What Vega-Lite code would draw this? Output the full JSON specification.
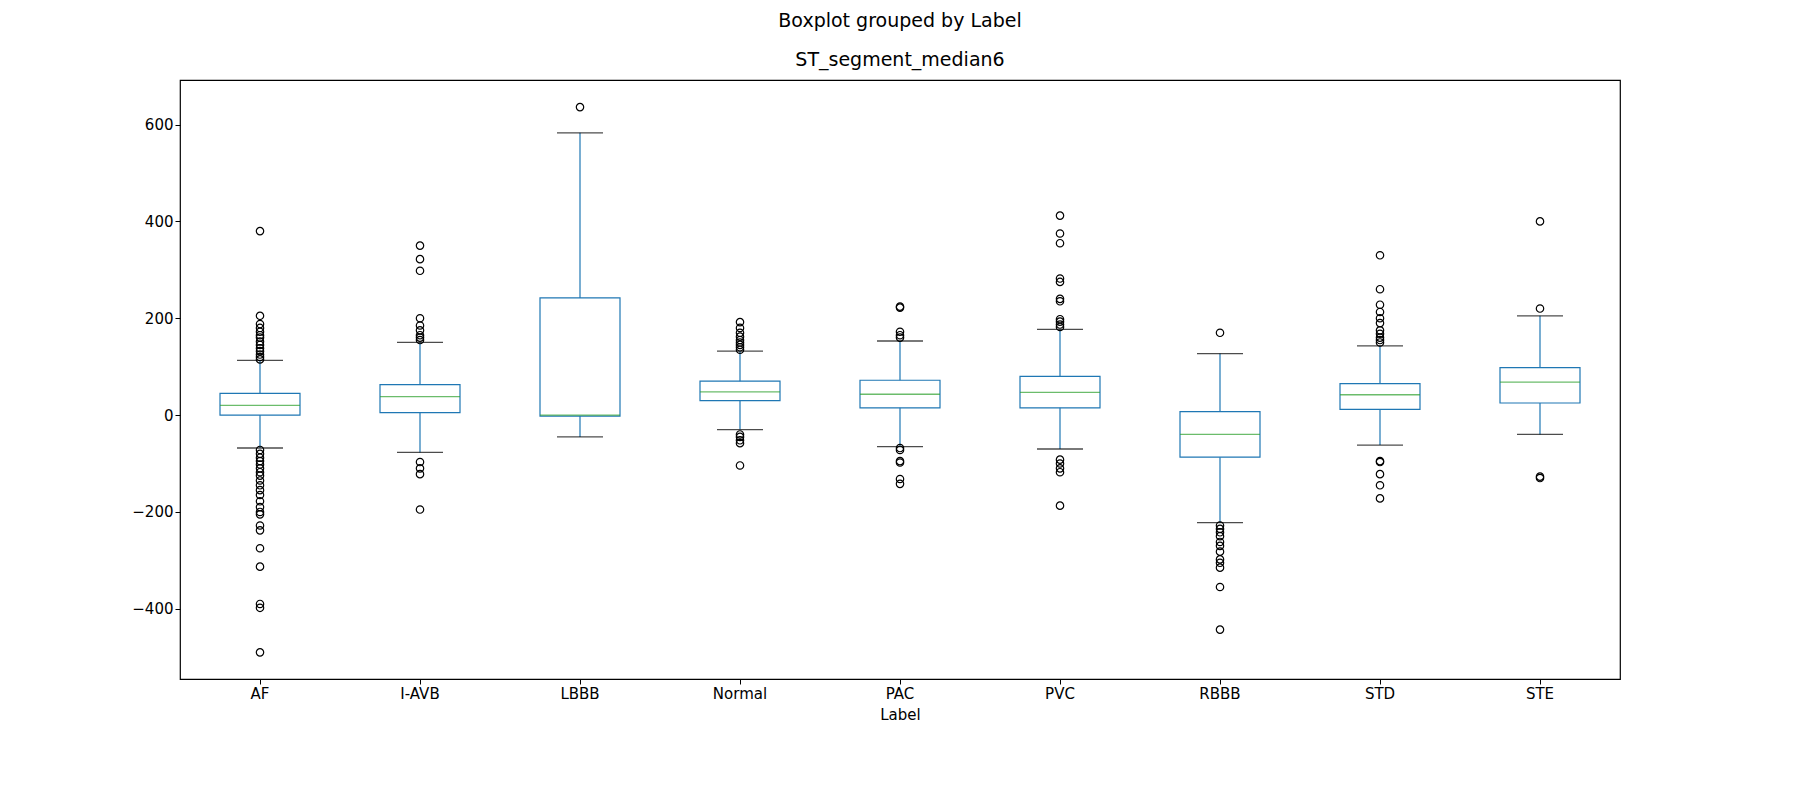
{
"$schema":"https://vega.github.io/schema/vega-lite/v6.json",
"width":1440,"height":599,
"autosize":"none",
"padding":{"left":180,"top":80,"right":180,"bottom":121},
"background":"white",
"title":{"text":"Boxplot grouped by Label","subtitle":"ST_segment_median6","anchor":"middle","font":"DejaVu Sans","subtitleFont":"DejaVu Sans","fontSize":19,"subtitleFontSize":19,"fontWeight":"normal","color":"black","subtitleColor":"black","subtitlePadding":20,"offset":10},
"config":{"view":{"stroke":"black","strokeWidth":1.2},"axis":{"labelFont":"DejaVu Sans","titleFont":"DejaVu Sans","labelFontSize":15,"titleFontSize":15,"titleFontWeight":"normal","labelColor":"black","titleColor":"black","tickColor":"black","domain":false,"grid":false,"tickSize":5}},
"datasets":{
"boxes":[
{"Label":"AF","q1":0,"med":20,"q3":45,"lo":-68,"hi":113},
{"Label":"I-AVB","q1":5,"med":38,"q3":63,"lo":-77,"hi":150},
{"Label":"LBBB","q1":-2,"med":0,"q3":242,"lo":-45,"hi":583},
{"Label":"Normal","q1":30,"med":48,"q3":70,"lo":-30,"hi":132},
{"Label":"PAC","q1":15,"med":43,"q3":72,"lo":-65,"hi":153},
{"Label":"PVC","q1":15,"med":47,"q3":80,"lo":-70,"hi":177},
{"Label":"RBBB","q1":-87,"med":-40,"q3":7,"lo":-222,"hi":127},
{"Label":"STD","q1":12,"med":42,"q3":65,"lo":-62,"hi":143},
{"Label":"STE","q1":25,"med":68,"q3":98,"lo":-40,"hi":205}
],
"outliers":[
{"Label":"AF","v":115},{"Label":"AF","v":120},{"Label":"AF","v":125},{"Label":"AF","v":132},{"Label":"AF","v":138},{"Label":"AF","v":145},{"Label":"AF","v":152},{"Label":"AF","v":160},{"Label":"AF","v":165},{"Label":"AF","v":172},{"Label":"AF","v":180},{"Label":"AF","v":188},{"Label":"AF","v":205},{"Label":"AF","v":380},
{"Label":"AF","v":-72},{"Label":"AF","v":-80},{"Label":"AF","v":-88},{"Label":"AF","v":-95},{"Label":"AF","v":-102},{"Label":"AF","v":-110},{"Label":"AF","v":-118},{"Label":"AF","v":-125},{"Label":"AF","v":-135},{"Label":"AF","v":-145},{"Label":"AF","v":-155},{"Label":"AF","v":-165},{"Label":"AF","v":-178},{"Label":"AF","v":-190},{"Label":"AF","v":-200},{"Label":"AF","v":-205},{"Label":"AF","v":-228},{"Label":"AF","v":-238},{"Label":"AF","v":-275},{"Label":"AF","v":-313},{"Label":"AF","v":-390},{"Label":"AF","v":-398},{"Label":"AF","v":-490},
{"Label":"I-AVB","v":155},{"Label":"I-AVB","v":160},{"Label":"I-AVB","v":165},{"Label":"I-AVB","v":175},{"Label":"I-AVB","v":185},{"Label":"I-AVB","v":200},{"Label":"I-AVB","v":298},{"Label":"I-AVB","v":322},{"Label":"I-AVB","v":350},{"Label":"I-AVB","v":-97},{"Label":"I-AVB","v":-110},{"Label":"I-AVB","v":-122},{"Label":"I-AVB","v":-195},
{"Label":"LBBB","v":636},
{"Label":"Normal","v":135},{"Label":"Normal","v":140},{"Label":"Normal","v":145},{"Label":"Normal","v":150},{"Label":"Normal","v":155},{"Label":"Normal","v":162},{"Label":"Normal","v":170},{"Label":"Normal","v":180},{"Label":"Normal","v":192},{"Label":"Normal","v":-40},{"Label":"Normal","v":-45},{"Label":"Normal","v":-52},{"Label":"Normal","v":-58},{"Label":"Normal","v":-104},
{"Label":"PAC","v":160},{"Label":"PAC","v":165},{"Label":"PAC","v":172},{"Label":"PAC","v":222},{"Label":"PAC","v":224},{"Label":"PAC","v":-68},{"Label":"PAC","v":-72},{"Label":"PAC","v":-95},{"Label":"PAC","v":-98},{"Label":"PAC","v":-132},{"Label":"PAC","v":-142},
{"Label":"PVC","v":182},{"Label":"PVC","v":187},{"Label":"PVC","v":193},{"Label":"PVC","v":198},{"Label":"PVC","v":235},{"Label":"PVC","v":240},{"Label":"PVC","v":275},{"Label":"PVC","v":282},{"Label":"PVC","v":355},{"Label":"PVC","v":375},{"Label":"PVC","v":412},{"Label":"PVC","v":-92},{"Label":"PVC","v":-100},{"Label":"PVC","v":-110},{"Label":"PVC","v":-118},{"Label":"PVC","v":-187},
{"Label":"RBBB","v":170},{"Label":"RBBB","v":-228},{"Label":"RBBB","v":-235},{"Label":"RBBB","v":-242},{"Label":"RBBB","v":-250},{"Label":"RBBB","v":-262},{"Label":"RBBB","v":-270},{"Label":"RBBB","v":-282},{"Label":"RBBB","v":-298},{"Label":"RBBB","v":-305},{"Label":"RBBB","v":-315},{"Label":"RBBB","v":-355},{"Label":"RBBB","v":-443},
{"Label":"STD","v":150},{"Label":"STD","v":155},{"Label":"STD","v":160},{"Label":"STD","v":168},{"Label":"STD","v":175},{"Label":"STD","v":190},{"Label":"STD","v":200},{"Label":"STD","v":213},{"Label":"STD","v":228},{"Label":"STD","v":260},{"Label":"STD","v":330},{"Label":"STD","v":-95},{"Label":"STD","v":-97},{"Label":"STD","v":-122},{"Label":"STD","v":-145},{"Label":"STD","v":-172},
{"Label":"STE","v":220},{"Label":"STE","v":400},{"Label":"STE","v":-127},{"Label":"STE","v":-130}
]},
"encoding":{
"x":{"field":"Label","type":"nominal","sort":null,"scale":{"paddingInner":0,"paddingOuter":0},"axis":{"labelAngle":0,"title":"Label","titlePadding":6}},
"y":{"type":"quantitative","scale":{"domain":[-545,692],"nice":false,"zero":false},"axis":{"values":[-400,-200,0,200,400,600],"title":null}}
},
"layer":[
{"data":{"name":"boxes"},"mark":{"type":"rule","color":"#1f77b4","strokeWidth":1.2},"encoding":{"y":{"field":"lo","type":"quantitative"},"y2":{"field":"hi"}}},
{"data":{"name":"boxes"},"mark":{"type":"bar","fill":"white","stroke":"#1f77b4","strokeWidth":1.2,"size":80},"encoding":{"y":{"field":"q1","type":"quantitative"},"y2":{"field":"q3"}}},
{"data":{"name":"boxes"},"mark":{"type":"tick","color":"#2ca02c","size":80,"thickness":1.3},"encoding":{"y":{"field":"med","type":"quantitative"}}},
{"data":{"name":"boxes"},"mark":{"type":"tick","color":"black","size":46,"thickness":1.3},"encoding":{"y":{"field":"lo","type":"quantitative"}}},
{"data":{"name":"boxes"},"mark":{"type":"tick","color":"black","size":46,"thickness":1.3},"encoding":{"y":{"field":"hi","type":"quantitative"}}},
{"data":{"name":"outliers"},"mark":{"type":"point","shape":"circle","filled":false,"stroke":"black","strokeWidth":1.2,"size":55,"opacity":1},"encoding":{"y":{"field":"v","type":"quantitative"}}}
]
}
